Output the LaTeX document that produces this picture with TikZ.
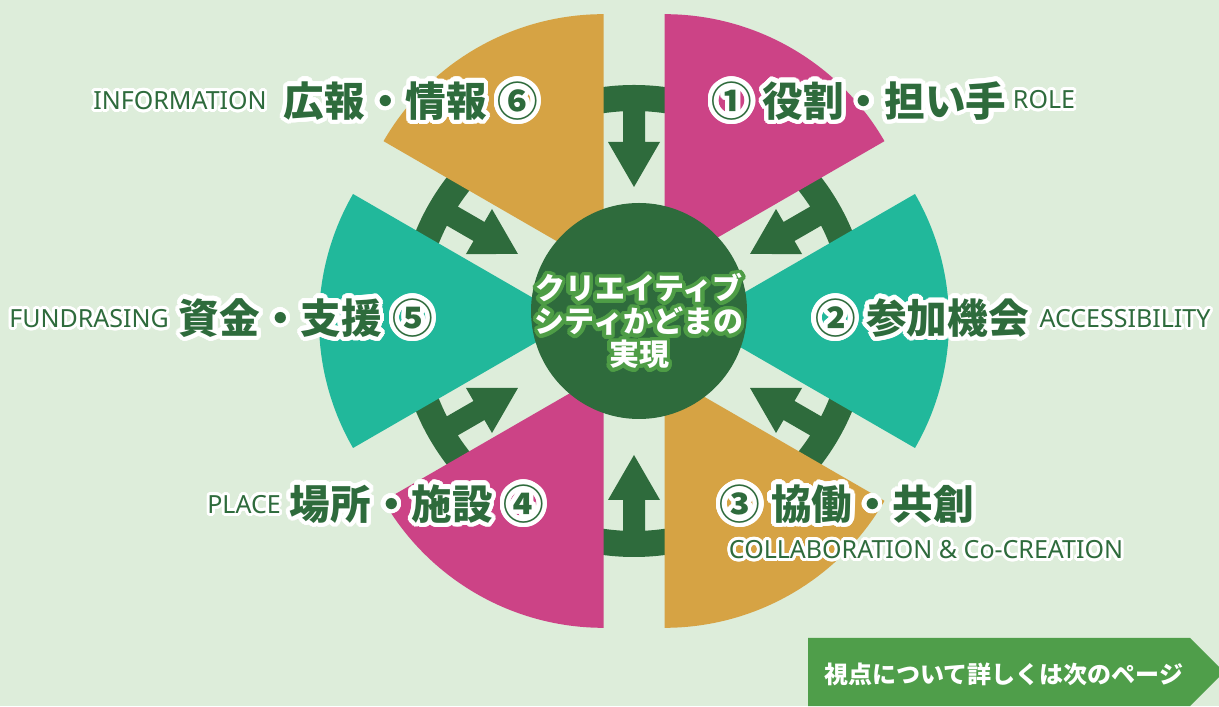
\documentclass[tikz,border=0pt]{standalone}
\usepackage{fontspec}
\usepackage{contour}
\usetikzlibrary{calc}
\newfontfamily\jp{Noto Sans CJK JP}
\newfontfamily\lat{Noto Sans}
\definecolor{bg}{HTML}{DDEDDA}
\definecolor{mag}{HTML}{CC4386}
\definecolor{teal}{HTML}{21B89B}
\definecolor{org}{HTML}{D6A344}
\definecolor{dg}{HTML}{2E6B3C}
\definecolor{cg}{HTML}{4E9D46}
\definecolor{btn}{HTML}{4F9E4A}
\contournumber{32}
\tikzset{
  jplabel/.style={inner sep=0pt, text=dg, font=\jp\bfseries\fontsize{20.3}{24}\selectfont},
  latlabel/.style={inner sep=0pt, text=dg, font=\lat\fontsize{12.5}{15}\selectfont},
  hubtext/.style={inner sep=0pt, text=white, align=center, font=\jp\bfseries\fontsize{15}{16.5}\selectfont},
  btntext/.style={inner sep=0pt, text=white, font=\jp\bfseries\fontsize{12}{14}\selectfont},
}
\newcommand{\jpout}[1]{{\contourlength{2.2pt}\contour{white}{#1}}}
\newcommand{\latout}[1]{{\contourlength{1.4pt}\contour{white}{#1}}}
\newcommand{\hubout}[1]{{\contourlength{1.8pt}\contour{cg}{#1}}}
\newcommand{\gapc}{\hspace{0.26em}}
\begin{document}
\begin{tikzpicture}[x=0.5pt,y=0.5pt]
\fill[bg] (0,0) rectangle (1219,706);
\useasboundingbox (0,0) rectangle (1219,706);
\coordinate (C) at (634,385);
\coordinate (H) at (639,395);
% ring and arrows
\fill[dg, even odd rule] (C) circle[radius=236] (C) circle[radius=210];
\foreach \g in {90,30,-30,-90,-150,150}{
  \fill[dg, shift={(C)}, rotate=\g] (215,-11) -- (179,-11) -- (179,-26) -- (134,0) -- (179,26) -- (179,11) -- (215,11) -- cycle;
}
% sectors
\foreach \b/\c in {60/mag,0/teal,-60/org,-120/mag,180/teal,120/org}{
  \pgfmathsetmacro\sa{\b+30}
  \pgfmathsetmacro\ea{\b-30}
  \fill[\c] ($(C)+(\b:61)$) -- ++(\sa:254) arc[start angle=\sa, end angle=\ea, radius=254] -- cycle;
}
% hub
\fill[dg] (H) circle[radius=108];
\node[hubtext] (hubt) at (639,383) {\hubout{クリエイティブ}\\\hubout{シティかどまの}\\\hubout{実現}};
% labels
\node[latlabel] (l6) at (180,604) {\latout{INFORMATION}};
\node[jplabel] (j6) at (411,603) {\jpout{広報・情報{\gapc}⑥}};
\node[jplabel] (j1) at (859,603) {\jpout{①{\gapc}役割・担い手}};
\node[latlabel] (l1) at (1044,605) {\latout{ROLE}};
\node[latlabel] (l5) at (89,386) {\latout{FUNDRASING}};
\node[jplabel] (j5) at (306,386) {\jpout{資金・支援{\gapc}⑤}};
\node[jplabel] (j2) at (922,386) {\jpout{②{\gapc}参加機会}};
\node[latlabel] (l2) at (1125,386) {\latout{ACCESSIBILITY}};
\node[latlabel] (l4) at (244,200) {\latout{PLACE}};
\node[jplabel] (j4) at (417,200) {\jpout{場所・施設{\gapc}④}};
\node[jplabel] (j3) at (847,200) {\jpout{③{\gapc}協働・共創}};
\node[latlabel] (l3) at (926,155) {\latout{COLLABORATION \& Co-CREATION}};
% button
\fill[btn] (808,0) -- (808,68) -- (1190,68) -- (1224,34) -- (1190,0) -- cycle;
\node[btntext] (bt) at (1004,32) {視点について詳しくは次のページ};
\end{tikzpicture}
\end{document}
